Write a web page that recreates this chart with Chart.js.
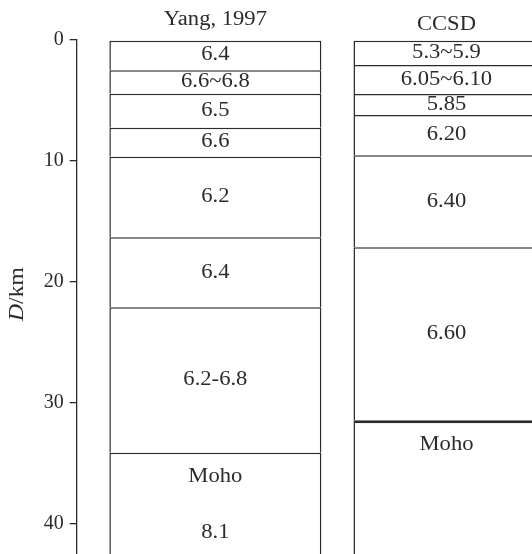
<!DOCTYPE html>
<html>
<head>
<meta charset="utf-8">
<script src="https://cdn.jsdelivr.net/npm/chart.js@4/dist/chart.umd.min.js"></script>
<style>
  html, body { margin: 0; padding: 0; background: #fff; overflow: hidden; }
  canvas { display: block; }
</style>
</head>
<body>
<canvas id="c" width="532" height="554"></canvas>
<script>
// Crustal velocity columns: layer tops (km) and P-wave velocity (km/s) per layer
const columns = ['Yang, 1997', 'CCSD'];
const depthTicks = [0, 10, 20, 30, 40];

const yangTops = [0, 2.5, 4.44, 7.25, 9.65, 16.32, 22.12, 34.16];
const yangVp = ['6.4', '6.6~6.8', '6.5', '6.6', '6.2', '6.4', '6.2-6.8', '8.1'];

const ccsdTops = [0, 2.06, 4.46, 6.2, 9.54, 17.15, 31.47];
const ccsdVp = ['5.3~5.9', '6.05~6.10', '5.85', '6.20', '6.40', '6.60', ''];

const DEPTH_MAX = 42.54;

// drawing style
const INK = '#2b2b2b';
const FONT = '"Liberation Serif", "Times New Roman", serif';
const LINE = 1.5;
const TEXT_STRETCH = 1.13;      // slightly wide lettering of the labels
const colX = [1, 2];            // column positions on the hidden x scale
const colWidth = [212, 186];    // column widths, px
const mohoWeight = [LINE, 3];   // weight of the Moho line in each column
const titleLift = [20, 15];     // column title height above the plot top, px

const allTops = [yangTops, ccsdTops];
const allVp = [yangVp, ccsdVp];

function layerBars(tops, x) {
  return tops.map((t, i) => ({
    x: x,
    y: [t, i + 1 < tops.length ? tops[i + 1] : DEPTH_MAX + 5]
  }));
}

const datasets = allTops.map((tops, c) => ({
  label: columns[c],
  data: layerBars(tops, colX[c]),
  grouped: false,
  barThickness: colWidth[c],
  backgroundColor: '#ffffff',
  borderColor: INK,
  borderSkipped: false,
  inflateAmount: 0,
  borderWidth: (ctx) => ({
    top: ctx.dataIndex === tops.length - 1 ? mohoWeight[c] : LINE,
    left: LINE,
    right: LINE,
    bottom: 0
  })
}));

function wideText(ctx, text, x, y) {
  ctx.save();
  ctx.translate(x, y);
  ctx.scale(TEXT_STRETCH, 1);
  ctx.fillText(text, 0, 0);
  ctx.restore();
}

// velocity labels, column titles and the Moho marks
const layerText = {
  id: 'layerText',
  afterDatasetsDraw(chart) {
    const { ctx, chartArea, scales: { x, y } } = chart;
    ctx.save();
    ctx.fillStyle = INK;
    ctx.textAlign = 'center';
    ctx.textBaseline = 'middle';
    ctx.font = '20px ' + FONT;
    allTops.forEach((tops, c) => {
      const cx = x.getPixelForValue(colX[c]);
      wideText(ctx, columns[c], cx, chartArea.top - titleLift[c]);
      const vp = allVp[c];
      tops.forEach((t, i) => {
        const yt = y.getPixelForValue(t);
        if (i < tops.length - 1) {
          const yb = y.getPixelForValue(tops[i + 1]);
          wideText(ctx, vp[i], cx, (yt + yb) / 2);
        } else {
          wideText(ctx, 'Moho', cx, yt + 24);
          if (vp[i]) wideText(ctx, vp[i], cx, yt + 80);
        }
      });
    });
    ctx.restore();
  }
};

// depth axis title with italic D
const depthTitle = {
  id: 'depthTitle',
  afterDraw(chart) {
    const { ctx, chartArea } = chart;
    const cy = (chartArea.top + chartArea.bottom) / 2 - 3;
    ctx.save();
    ctx.translate(17.5, cy);
    ctx.rotate(-Math.PI / 2);
    ctx.scale(1.18, 1);
    ctx.fillStyle = INK;
    ctx.textBaseline = 'middle';
    ctx.textAlign = 'left';
    const fI = 'italic 20px ' + FONT, fN = '20px ' + FONT;
    ctx.font = fI; const wD = ctx.measureText('D').width;
    ctx.font = fN; const wK = ctx.measureText('/km').width;
    const x0 = -(wD + wK) / 2;
    ctx.font = fI; ctx.fillText('D', x0, 0);
    ctx.font = fN; ctx.fillText('/km', x0 + wD, 0);
    ctx.restore();
  }
};

new Chart(document.getElementById('c'), {
  type: 'bar',
  data: { datasets },
  options: {
    responsive: false,
    animation: false,
    events: [],
    layout: { padding: { top: 40.1, left: 0, right: 0, bottom: 0 } },
    plugins: { legend: { display: false }, tooltip: { enabled: false } },
    scales: {
      x: {
        type: 'linear',
        display: false,
        offset: false,
        min: 0.4,
        max: 2.37
      },
      y: {
        type: 'linear',
        reverse: true,
        min: 0,
        max: DEPTH_MAX,
        afterBuildTicks: (scale) => { scale.ticks = depthTicks.map(v => ({ value: v })); },
        afterFit: (scale) => {
          scale.width = 76.7;
          scale.paddingTop = 0;
          scale.paddingBottom = 0;
        },
        grid: {
          drawOnChartArea: false,
          drawTicks: true,
          tickLength: 7,
          color: INK,
          lineWidth: 1.3
        },
        border: { display: true, color: INK, width: 1.3 },
        ticks: {
          padding: 6,
          color: INK,
          font: { family: FONT, size: 20 },
          callback: (v) => String(v)
        },
        title: { display: false }
      }
    }
  },
  plugins: [layerText, depthTitle]
});
</script>
</body>
</html>
